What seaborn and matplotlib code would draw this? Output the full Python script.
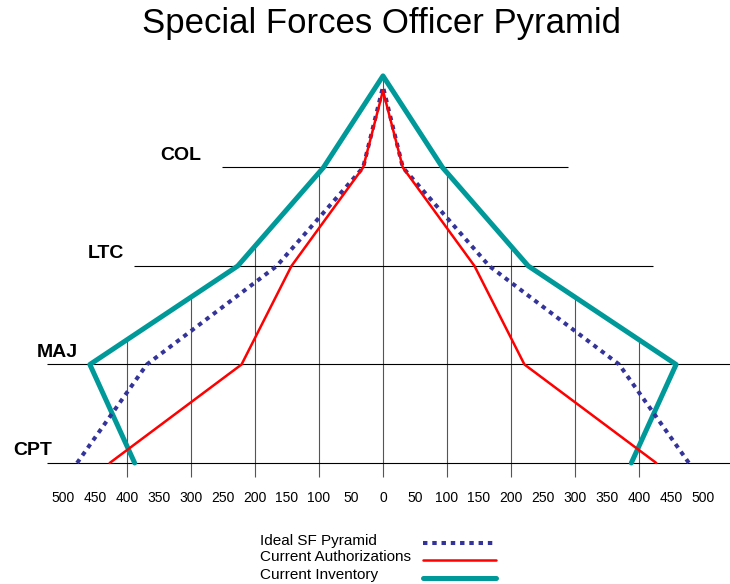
import numpy as np
import pandas as pd
import matplotlib
matplotlib.use("Agg")
import matplotlib.pyplot as plt
from matplotlib.lines import Line2D
import seaborn as sns

sns.set_style("white")
plt.rcParams['font.family'] = ['Liberation Sans', 'DejaVu Sans']
plt.rcParams['text.color'] = 'black'
plt.rcParams['xtick.color'] = 'black'

# rank levels, bottom to top
ranks = ["CPT", "MAJ", "LTC", "COL"]
levels = [0, 1, 2, 3]

# half-widths of each pyramid at CPT, MAJ, LTC, COL, and the apex level
ideal_width = [478, 369, 166, 31]
ideal_apex = 3.82
auth_width = [427, 221, 143, 31]
auth_apex = 3.78
inv_width = [388, 458, 227, 93]
inv_apex = 3.93

# x tick labels
tick_vals = list(range(-500, 501, 50))
tick_labels = [str(abs(v)) for v in tick_vals]

# extent of the rank lines
rank_line_left = [-525, -525, -389, -252]
rank_line_right = [560, 560, 422, 289]
label_x = [-578, -541, -461, -348]
grid_x = [-400, -300, -200, -100, 0, 100, 200, 300, 400]


def pyramid(widths, apex, name):
    xs = [-w for w in widths] + [0] + [w for w in widths[::-1]]
    ys = levels + [apex] + levels[::-1]
    return pd.DataFrame({"x": xs, "y": ys, "series": name})


df_ideal = pyramid(ideal_width, ideal_apex, "Ideal SF Pyramid")
df_auth = pyramid(auth_width, auth_apex, "Current Authorizations")
df_inv = pyramid(inv_width, inv_apex, "Current Inventory")

fig = plt.figure(figsize=(7.3, 5.84), dpi=100)
ax = fig.add_axes([0, 0.1747, 1, 0.7568])

# vertical grid lines, clipped to the inventory outline
xp = np.array([0, inv_width[3], inv_width[2], inv_width[1]])
fp = np.array([inv_apex, 3, 2, 1])
for gx in grid_x:
    top = np.interp(abs(gx), xp, fp)
    ax.vlines(gx, -0.14, top, color="#555555", lw=0.8, zorder=1)

# rank lines and labels
for lv, x0, x1 in zip(levels, rank_line_left, rank_line_right):
    ax.hlines(lv, x0, x1, color="black", lw=0.8, zorder=1)
for lv, name, lx in zip(levels, ranks, label_x):
    ax.text(lx, lv + 0.08, name, fontsize=14, fontweight="bold",
            va="baseline", ha="left", color="black")

teal = "#009999"
navy = "#333399"
red = "#ff0000"

sns.lineplot(data=df_inv, x="x", y="y", sort=False, estimator=None, color=teal,
             lw=3.6, ax=ax, zorder=3)
sns.lineplot(data=df_ideal, x="x", y="y", sort=False, estimator=None, color=navy,
             lw=2.9, ax=ax, zorder=4, linestyle=(0, (1.1, 1.2)))
sns.lineplot(data=df_auth, x="x", y="y", sort=False, estimator=None, color=red,
             lw=1.8, ax=ax, zorder=5)

ax.set_xlim(-598.4, 542.2)
ax.set_ylim(-0.1929, 4.2944)
ax.set_xticks(tick_vals)
ax.set_xticklabels(tick_labels, fontsize=10, color="black")
ax.set_yticks([])
ax.tick_params(axis="x", length=0, pad=6.5)
ax.set_xlabel("")
ax.set_ylabel("")
for s in ax.spines.values():
    s.set_visible(False)

fig.text(382 / 730, 1 - 23 / 584, "Special Forces Officer Pyramid", fontsize=25,
         ha="center", va="center", color="black")

# legend
leg_names = ["Ideal SF Pyramid", "Current Authorizations", "Current Inventory"]
leg_text_y = [541, 557, 575]
leg_line_y = [543, 560, 578]
leg_styles = [dict(color=navy, lw=2.9, linestyle=(0, (1.1, 1.2))),
              dict(color=red, lw=1.8),
              dict(color=teal, lw=3.6)]
for name, ty, ly, st in zip(leg_names, leg_text_y, leg_line_y, leg_styles):
    fig.text(260 / 730, 1 - ty / 584, name, fontsize=11, ha="left",
             va="center", color="black")
    fig.add_artist(Line2D([423 / 730, 496 / 730], [1 - ly / 584, 1 - ly / 584],
                          transform=fig.transFigure, **st))

fig.savefig("out.png", dpi=100)
